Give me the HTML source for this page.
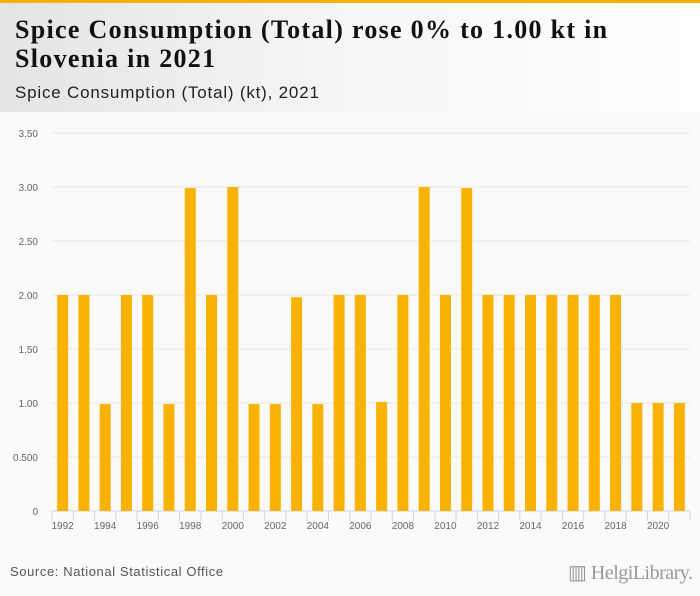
<!DOCTYPE html>
<html><head><meta charset="utf-8"><style>
body{margin:0;width:700px;height:596px;background:#fafafa;font-family:"Liberation Sans",sans-serif;overflow:hidden;position:relative}
#hdr{position:absolute;left:0;top:0;width:700px;height:112px;background:linear-gradient(90deg,#e4e4e4 0%,#f6f6f6 50%,#fff 100%);border-top:3px solid #f9b200;box-sizing:border-box}
#title{position:absolute;left:15px;top:12px;font-family:"Liberation Serif",serif;font-weight:bold;font-size:26px;line-height:29px;color:#111;letter-spacing:1.3px}
#sub{position:absolute;left:15px;top:80px;font-size:17px;color:#222;letter-spacing:0.8px}
#src{position:absolute;left:10px;top:564px;font-size:13px;color:#555;letter-spacing:0.6px}
#logo{position:absolute;left:568px;top:560px;font-family:"Liberation Serif",serif;font-size:20px;color:#999;letter-spacing:-0.5px}
svg{position:absolute;left:0;top:0}
</style></head><body>
<div id="hdr">
<div id="title">Spice Consumption (Total) rose 0% to 1.00 kt in<br>Slovenia in 2021</div>
<div id="sub">Spice Consumption (Total) (kt), 2021</div>
</div>
<svg id="chart" width="700" height="596"></svg>
<div id="src">Source: National Statistical Office</div>
<div id="logo">▥ HelgiLibrary.</div>
<script>
const years=[1992,1993,1994,1995,1996,1997,1998,1999,2000,2001,2002,2003,2004,2005,2006,2007,2008,2009,2010,2011,2012,2013,2014,2015,2016,2017,2018,2019,2020,2021];
const values=[2,2,0.99,2,2,0.99,2.99,2,3,0.99,0.99,1.98,0.99,2,2,1.01,2,3,2,2.99,2,2,2,2,2,2,2,1,1,1];
const yTicks=[0,0.5,1,1.5,2,2.5,3,3.5];
const yTickLabels=["0","0.500","1.00","1.50","2.00","2.50","3.00","3.50"];
const NS="http://www.w3.org/2000/svg";
const svg=document.getElementById('chart');
const x0=52,x1=690,y0=511,yTop=133,yMax=3.5;
const bw=(x1-x0)/years.length;
const y=v=>y0-(v/yMax)*(y0-yTop);
const xc=i=>x0+bw*(i+0.5);
function mk(t,a){const e=document.createElementNS(NS,t);for(const k in a)e.setAttribute(k,a[k]);svg.appendChild(e);return e;}
yTicks.forEach((t,i)=>{
  const g=mk('line',{x1:x0,x2:x1,y1:y(t),y2:y(t),stroke:t===0?'#ccd6eb':'#e6e6e6','stroke-width':1});
  
  
  const l=mk('text',{x:38,y:y(t)+4,'text-anchor':'end','font-size':10,fill:'#666','font-family':'Liberation Sans, sans-serif'});
  l.textContent=yTickLabels[i];
  
  
});
values.forEach((v,i)=>{
  const r=mk('rect',{x:xc(i)-5.5,y:y(v),width:11,height:y0-y(v),fill:'#f9b200'});
  
  
});
for(let i=0;i<=years.length;i++){
  const tk=mk('line',{x1:x0+bw*i,x2:x0+bw*i,y1:y0,y2:y0+10,stroke:'#ccd6eb'});
  
  
}
years.forEach((yr,i)=>{
  if(i%2)return;
  const l=mk('text',{x:xc(i),y:y0+18,'text-anchor':'middle','font-size':10,fill:'#666','font-family':'Liberation Sans, sans-serif'});
  l.textContent=yr;
  
  
});
</script>
</body></html>
